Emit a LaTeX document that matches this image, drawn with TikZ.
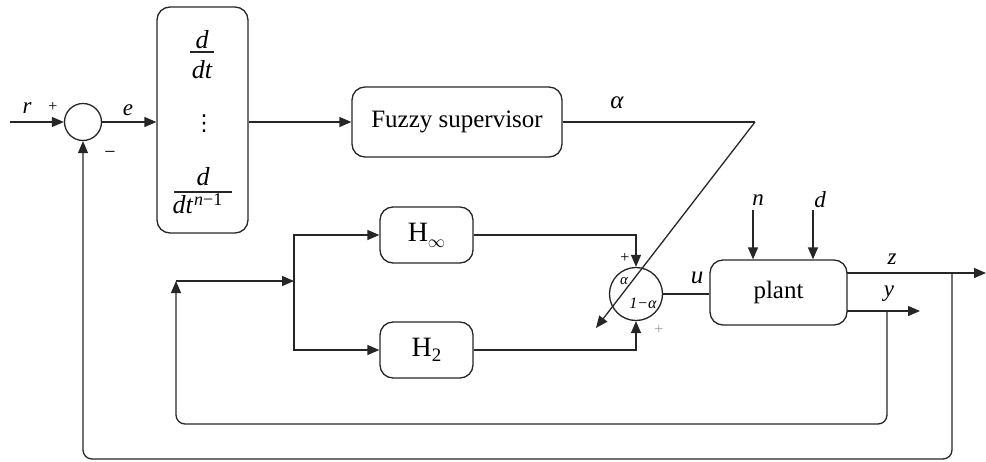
\documentclass[tikz,border=0pt]{standalone}
\usepackage{fontspec}
\setmainfont{Liberation Serif}
\newfontfamily\dejavu{DejaVu Sans}
\usetikzlibrary{arrows.meta}
\newcommand{\fs}[1]{\fontsize{#1}{#1}\selectfont}
\begin{document}
\begin{tikzpicture}[x=1pt,y=-1pt,
  ln/.style={line width=1.3pt, draw=black!85},
  thin/.style={line width=1.1pt, draw=black!85},
  arr/.style={ln, -{Triangle[length=12pt,width=10pt]}},
  blk/.style={ln, rounded corners=13pt, inner sep=0pt, anchor=center},
  sumc/.style={ln, circle, inner sep=0pt},
  lbl/.style={inner sep=0pt, font=\fs{23}\itshape},
  frc/.style={inner sep=0pt, font=\fs{26}\itshape},
  sgn/.style={inner sep=0pt, font=\fs{16}}
]
\useasboundingbox (0,0) rectangle (986,461);
% blocks
\node[sumc, minimum size=37pt] (sum) at (83,122) {};
\node[blk, minimum width=91pt, minimum height=226pt] (deriv) at (202.5,120) {};
\node[frc] (f1n) at (202,40) {d};
\node[frc] (f1d) at (202,70) {dt};
\draw[thin] (190,52) -- (214,52);
\node[inner sep=0pt, font=\fs{22}\dejavu] (f2) at (204,124) {⋮};
\node[frc] (f3n) at (203,177) {d};
\node[frc, anchor=base east] (f3d) at (193,213) {dt};
\node[inner sep=0pt, font=\fs{18}\itshape, anchor=base west] (f3e) at (194,205) {n\upshape −1};
\draw[thin] (174,192) -- (232,192);
\node[blk, minimum width=210pt, minimum height=70pt, font=\fs{25}] (fuzzy) at (457,122) {Fuzzy supervisor};
\node[blk, minimum width=93pt, minimum height=56pt, font=\fs{28}] (hinf) at (426.5,235) {H\raisebox{-0.45ex}{\fs{16}$\infty$}};
\node[blk, minimum width=93pt, minimum height=56pt, font=\fs{28}] (htwo) at (426.5,350) {H\raisebox{-0.35ex}{\fs{19}2}};
\node[blk, minimum width=137pt, minimum height=65pt, font=\fs{25}] (plant) at (778.5,292.5) {plant};
\node[sumc, minimum size=53pt] (mix) at (636,294) {};
\node[inner sep=0pt, font=\fs{15}\itshape] (ma) at (624,281) {α};
\node[inner sep=0pt, font=\fs{16}\itshape] (mb) at (643,303) {1−α};
% coordinates
\coordinate (rin) at (10,122);
\coordinate (kink) at (755,122);
\coordinate (atip) at (596,328);
\coordinate (br) at (294,281);
\coordinate (fbl) at (176,281);
\coordinate (nin) at (753,210);
\coordinate (din) at (813,210);
\coordinate (zc) at (847,273);
\coordinate (zout) at (986,273);
\coordinate (yc) at (847,311);
\coordinate (yout) at (920,311);
\coordinate (ytap) at (887,311);
\coordinate (ztap) at (952,273);
% connectors
\draw[arr] (rin) -- (sum.west);
\draw[arr] (sum.east) -- (sum.east -| deriv.west);
\draw[arr] (deriv.east |- fuzzy.west) -- (fuzzy.west);
\draw[ln] (fuzzy.east) -- (kink);
\draw[arr] (kink) -- (atip);
\draw[arr] (br) |- (hinf.west);
\draw[arr] (br) |- (htwo.west);
\draw[arr] (hinf.east) -| (mix.north);
\draw[arr] (htwo.east) -| (mix.south);
\draw[ln] (mix.east) -- (mix.east -| plant.west);
\draw[arr] (nin) -- (nin |- plant.north);
\draw[arr] (din) -- (din |- plant.north);
\draw[arr] (zc) -- (zout);
\draw[arr] (yc) -- (yout);
\draw[arr, rounded corners=9pt] (ytap) -- (ytap |- 0,424) -- (fbl |- 0,424) -- (fbl);
\draw[arr] (fbl) -- (br);
\draw[arr, rounded corners=9pt] (ztap) -- (ztap |- 0,459) -- (sum.south |- 0,459) -- (sum.south);
% labels
\node[lbl] (lr) at (27,108) {r};
\node[sgn] (lp1) at (53,107) {+};
\node[lbl] (le) at (128,110) {e};
\node[sgn, font=\fs{20}] (lm) at (110,155) {−};
\node[lbl, font=\fs{25}\itshape] (la) at (617,103) {α};
\node[sgn] (lp2) at (625,258) {+};
\node[sgn, text=black!40] (lp3) at (659,330) {+};
\node[lbl, font=\fs{25}\itshape] (lu) at (697,278) {u};
\node[lbl] (ln) at (758,200) {n};
\node[lbl] (ld) at (820,200) {d};
\node[lbl] (lz) at (892,259) {z};
\node[lbl] (ly) at (889,294) {y};
\end{tikzpicture}
\end{document}
